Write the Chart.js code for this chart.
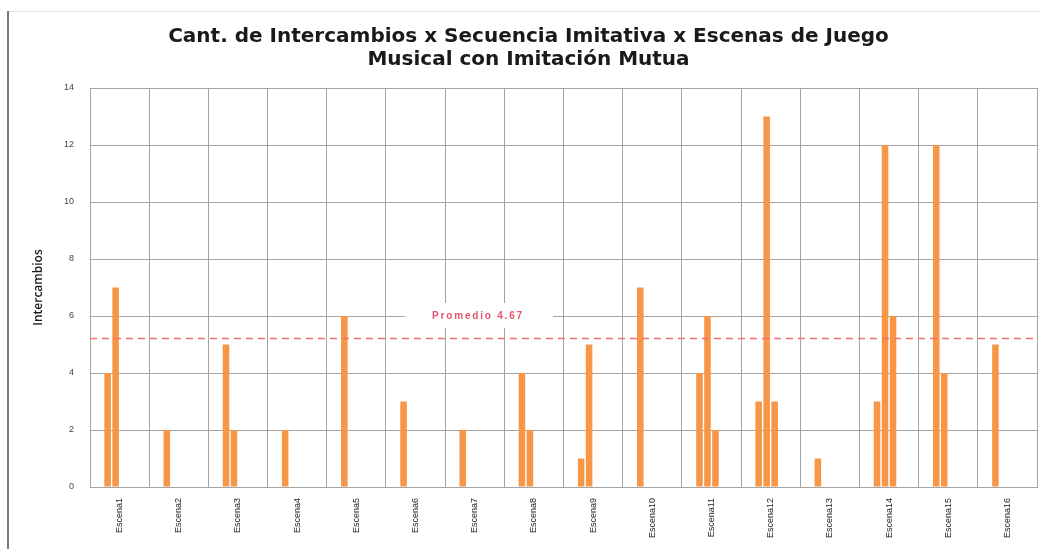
<!DOCTYPE html>
<html>
<head>
<meta charset="utf-8">
<script src="https://cdn.jsdelivr.net/npm/chart.js@4.4.1/dist/chart.umd.min.js"></script>
<style>
  html, body { margin: 0; padding: 0; background: #ffffff; }
  #wrap { position: relative; width: 1040px; height: 549px; }
  canvas { display: block; }
</style>
</head>
<body>
<div id="wrap"><canvas id="c" width="1040" height="549"></canvas></div>
<script>
// ---- Data ----
const categories = ['Escena1','Escena2','Escena3','Escena4','Escena5','Escena6','Escena7','Escena8',
                    'Escena9','Escena10','Escena11','Escena12','Escena13','Escena14','Escena15','Escena16'];
const secuencia1 = [4, 2, 5, 2, 6, 3, 2, 4, 1, 7, 4, 3, 1, 3, 12, 5];
const secuencia2 = [7, null, 2, null, null, null, null, 2, 5, null, 6, 13, null, 12, 4, null];
const secuencia3 = [null, null, null, null, null, null, null, null, null, null, 2, 3, null, 6, null, null];
const yTicks = [0, 2, 4, 6, 8, 10, 12, 14];
const promedioLinea = 5.23;
const promedioTexto = 'Promedio 4.67';
const titulo = ['Cant. de Intercambios x Secuencia Imitativa x Escenas de Juego', 'Musical con Imitación Mutua'];
const ejeY = 'Intercambios';

const barColor = '#f79646';

const frame = {
  id: 'frame',
  beforeDraw(chart) {
    const ctx = chart.ctx;
    ctx.save();
    ctx.fillStyle = '#ffffff';
    ctx.fillRect(0, 0, chart.width, chart.height);
    ctx.strokeStyle = '#e4e4e4';
    ctx.lineWidth = 1;
    ctx.beginPath(); ctx.moveTo(8, 11.5); ctx.lineTo(1040, 11.5); ctx.stroke();
    ctx.strokeStyle = '#7a7a7a';
    ctx.lineWidth = 2;
    ctx.beginPath(); ctx.moveTo(8, 11); ctx.lineTo(8, 549); ctx.stroke();
    ctx.restore();
  }
};

const promedio = {
  id: 'promedio',
  afterDatasetsDraw(chart) {
    const {ctx, chartArea} = chart;
    const y = Math.round(chart.scales.y.getPixelForValue(promedioLinea)) + 0.5;
    ctx.save();
    ctx.strokeStyle = '#f47070';
    ctx.lineWidth = 1.5;
    ctx.setLineDash([7, 5]);
    ctx.beginPath(); ctx.moveTo(chartArea.left, y); ctx.lineTo(chartArea.right, y); ctx.stroke();
    ctx.setLineDash([]);
    // label with white box
    const ly = chart.scales.y.getPixelForValue(6);
    ctx.fillStyle = '#ffffff';
    ctx.fillRect(405, ly - 13, 148, 25);
    ctx.font = 'bold 10px "Liberation Sans", Arial, sans-serif';
    ctx.fillStyle = '#e5546c';
    ctx.textAlign = 'center';
    ctx.textBaseline = 'middle';
    if ('letterSpacing' in ctx) ctx.letterSpacing = '1.8px';
    ctx.fillText(promedioTexto, 478, ly);
    ctx.restore();
  }
};

new Chart(document.getElementById('c'), {
  type: 'bar',
  data: {
    labels: categories,
    datasets: [
      { label: 'Secuencia 1', data: secuencia1, backgroundColor: barColor },
      { label: 'Secuencia 2', data: secuencia2, backgroundColor: barColor },
      { label: 'Secuencia 3', data: secuencia3, backgroundColor: barColor },
      { label: '', data: [], backgroundColor: barColor }
    ]
  },
  options: {
    responsive: false,
    animation: false,
    categoryPercentage: 0.54,
    barPercentage: 0.82,
    layout: { padding: { left: 20, right: 3, top: 0, bottom: 0 } },
    plugins: {
      legend: { display: false },
      tooltip: { enabled: false },
      title: {
        display: true,
        text: titulo,
        color: '#1a1a1a',
        font: { family: '"DejaVu Sans", sans-serif', size: 20, weight: 'bold', lineHeight: '23px' },
        padding: { top: 25, bottom: 17 }
      }
    },
    scales: {
      x: {
        grid: { color: '#a4a4a4', lineWidth: 1, drawTicks: false },
        border: { color: '#a4a4a4' },
        ticks: {
          color: '#222',
          font: { family: '"Liberation Sans", Arial, sans-serif', size: 9 },
          maxRotation: 90, minRotation: 90,
          padding: 11,
          autoSkip: false
        },
        afterFit(scale) { scale.height = 62; }
      },
      y: {
        min: 0, max: 14,
        afterBuildTicks(scale) { scale.ticks = yTicks.map(v => ({ value: v })); },
        grid: { color: '#a4a4a4', lineWidth: 1, drawTicks: false },
        border: { display: false },
        ticks: {
          color: '#444',
          font: { family: '"Liberation Sans", Arial, sans-serif', size: 9 },
          padding: 16
        },
        title: {
          display: true,
          text: ejeY,
          color: '#1a1a1a',
          font: { family: '"Open Sans", sans-serif', size: 12, weight: '600' },
          padding: { top: 11, bottom: 0 }
        },
        afterFit(scale) { scale.width = 70; }
      }
    }
  },
  plugins: [frame, promedio]
});
</script>
</body>
</html>
